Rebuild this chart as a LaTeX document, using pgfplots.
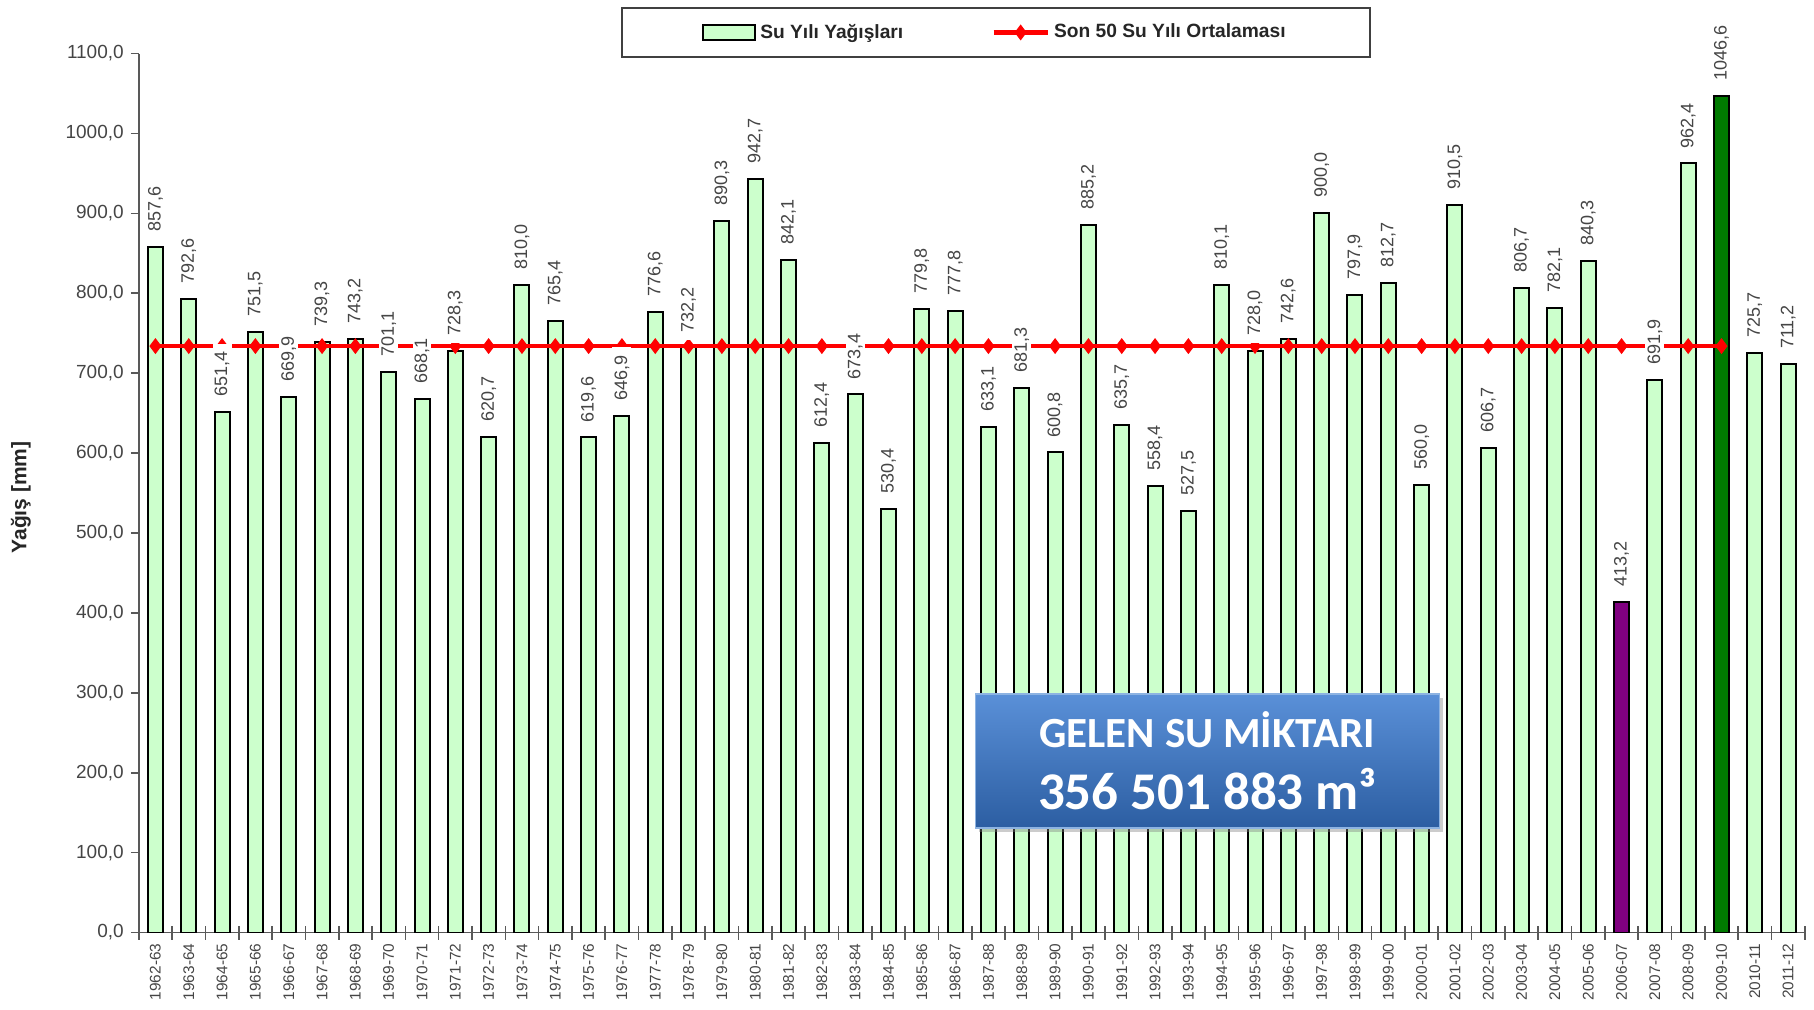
\documentclass[border=0pt]{standalone}
\usepackage{pgfplots}
\pgfplotsset{compat=1.18}
\usepackage{pgfplotstable}
\usepackage{fontspec}
\setmainfont{Liberation Sans}
\newfontfamily\calibri{Carlito}
\usetikzlibrary{shadows}

\definecolor{barfill}{HTML}{CCFFCC}
\definecolor{avgred}{HTML}{FF0000}
\definecolor{purp}{HTML}{800080}
\definecolor{dgreen}{HTML}{007A00}
\definecolor{txtgray}{HTML}{454545}
\definecolor{boxtop}{HTML}{5A90D8}
\definecolor{boxbot}{HTML}{2C5EA2}
\definecolor{boxedge}{HTML}{8DB3E2}

\pgfplotsset{
  mybarlegend/.style={legend image code/.code={\draw[##1] (0pt,-3.7pt) rectangle (26pt,3.7pt);}},
  mylinelegend/.style={legend image code/.code={\draw[##1, mark repeat=2, mark phase=2] plot coordinates {(0pt,0pt) (13.5pt,0pt) (27pt,0pt)};}},
}

\pgfplotstableread{
x y avg
0 857.6 733.9
1 792.6 733.9
2 651.4 733.9
3 751.5 733.9
4 669.9 733.9
5 739.3 733.9
6 743.2 733.9
7 701.1 733.9
8 668.1 733.9
9 728.3 733.9
10 620.7 733.9
11 810.0 733.9
12 765.4 733.9
13 619.6 733.9
14 646.9 733.9
15 776.6 733.9
16 732.2 733.9
17 890.3 733.9
18 942.7 733.9
19 842.1 733.9
20 612.4 733.9
21 673.4 733.9
22 530.4 733.9
23 779.8 733.9
24 777.8 733.9
25 633.1 733.9
26 681.3 733.9
27 600.8 733.9
28 885.2 733.9
29 635.7 733.9
30 558.4 733.9
31 527.5 733.9
32 810.1 733.9
33 728.0 733.9
34 742.6 733.9
35 900.0 733.9
36 797.9 733.9
37 812.7 733.9
38 560.0 733.9
39 910.5 733.9
40 606.7 733.9
41 806.7 733.9
42 782.1 733.9
43 840.3 733.9
44 413.2 733.9
45 691.9 733.9
46 962.4 733.9
47 1046.6 733.9
48 725.7 nan
49 711.2 nan
}\data

\begin{document}
\begin{tikzpicture}
\begin{axis}[
  scale only axis,
  width=833pt, height=439.5pt,
  xmin=-0.5, xmax=49.5,
  ymin=0, ymax=1100,
  ybar, bar width=7.5pt,
  axis x line*=bottom, axis y line*=left,
  axis line style={black!65, line width=0.8pt},
  ytick={0,100,...,1100},
  xtick=data,
  xticklabels={1962-63,1963-64,1964-65,1965-66,1966-67,1967-68,1968-69,1969-70,1970-71,1971-72,1972-73,1973-74,1974-75,1975-76,1976-77,1977-78,1978-79,1979-80,1980-81,1981-82,1982-83,1983-84,1984-85,1985-86,1986-87,1987-88,1988-89,1989-90,1990-91,1991-92,1992-93,1993-94,1994-95,1995-96,1996-97,1997-98,1998-99,1999-00,2000-01,2001-02,2002-03,2003-04,2004-05,2005-06,2006-07,2007-08,2008-09,2009-10,2010-11,2011-12},
  minor xtick={-0.5,0.5,...,49.5},
  major x tick style={draw=none},
  minor x tick style={black!65, line width=0.8pt},
  minor tick length=7pt,
  y tick style={black!65, line width=0.8pt},
  major tick length=4pt,
  xtick align=center,
  ytick align=outside,
  x tick label style={rotate=90, anchor=east, font=\fontsize{7.7}{8}\selectfont, text=txtgray},
  y tick label style={font=\fontsize{9.5}{10}\selectfont, text=txtgray},
  /pgf/number format/.cd, fixed, fixed zerofill, precision=1, use comma, 1000 sep={}, assume math mode=true,
  /pgfplots/.cd,
  ylabel={Yağış [mm]},
  ylabel style={at={(axis description cs:-0.0707,0.495)}, anchor=center, rotate=0, font=\fontsize{10.5}{11}\selectfont\bfseries, text=black!85},
  legend columns=2,
  legend style={at={(0.5145,0.995)}, anchor=south, draw=black!75, line width=0.9pt,
    font=\fontsize{9.6}{10}\selectfont\bfseries, text=black!85,
    inner xsep=40pt, inner ysep=6pt,
    /tikz/every even column/.append style={column sep=42pt}},
]
% bars
\addplot[bar shift=0pt, fill=barfill, draw=black, line width=1pt, mybarlegend]
  table[x=x,y=y]{\data};
\addlegendentry{Su Yılı Yağışları}
\addplot[bar shift=0pt, fill=purp, draw=black, line width=1pt, forget plot]
  coordinates {(44,413.2)};
\addplot[bar shift=0pt, fill=dgreen, draw=black, line width=1pt, forget plot]
  coordinates {(47,1046.6)};
% average line
\addplot[sharp plot, avgred, line width=2.4pt, mark=diamond*, mark size=3.6pt,
  mark options={solid, fill=avgred, draw=avgred, line width=0.5pt}, unbounded coords=jump,
  mylinelegend]
  table[x=x,y=avg]{\data};
\addlegendentry{Son 50 Su Yılı Ortalaması}
% value labels
\addplot[bar shift=0pt, draw=none, fill=none, forget plot,
  nodes near coords,
  nodes near coords style={yshift=3.5pt, rotate=90, anchor=west, fill=white, inner xsep=4pt, inner ysep=1pt,
    font=\fontsize{9}{10}\selectfont, text=txtgray}]
  table[x=x,y=y]{\data};
% annotation box
\node[draw=boxedge, line width=0.8pt, top color=boxtop, bottom color=boxbot,
  drop shadow={shadow xshift=2pt, shadow yshift=-2pt, opacity=0.4},
  minimum width=232pt, minimum height=67pt, align=center, text=white,
  font=\calibri\bfseries, inner sep=0pt]
  at (axis cs:31.57,215)
  {{\fontsize{21.5}{24}\selectfont GELEN SU MİKTARI}\\[9pt]{\fontsize{26.5}{28}\selectfont 356 501 883 m³}};
\coordinate (pgBL) at (rel axis cs:-0.0833,-0.087);
\coordinate (pgTR) at (rel axis cs:1.00552,1.0609);
\end{axis}
\pgfresetboundingbox
\path (pgBL) rectangle (pgTR);
\end{tikzpicture}
\end{document}
